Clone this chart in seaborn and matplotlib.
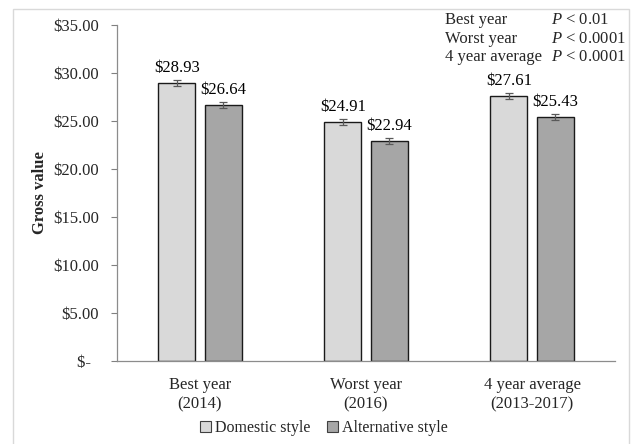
import matplotlib
matplotlib.use("Agg")
import matplotlib.pyplot as plt
import seaborn as sns
import pandas as pd
import numpy as np
from matplotlib.patches import Rectangle, Patch

categories = ["Best year\n(2014)", "Worst year\n(2016)", "4 year average\n(2013-2017)"]
series_names = ["Domestic style", "Alternative style"]
domestic = [28.93, 24.91, 27.61]
alternative = [26.64, 22.94, 25.43]
domestic_err = [0.30, 0.30, 0.30]
alternative_err = [0.30, 0.30, 0.30]
yticks = [0, 5, 10, 15, 20, 25, 30, 35]
ytick_labels = ["$-  ", "$5.00", "$10.00", "$15.00", "$20.00", "$25.00", "$30.00", "$35.00"]
stats_labels = ["Best year", "Worst year", "4 year average"]
stats_p = ["0.01", "0.0001", "0.0001"]

colors = ["#D9D9D9", "#A6A6A6"]
FS = 12

df = pd.DataFrame({
    "category": categories * 2,
    "style": [series_names[0]] * 3 + [series_names[1]] * 3,
    "value": domestic + alternative,
    "err": domestic_err + alternative_err,
})

sns.set_style("white")
plt.rcParams["font.family"] = ["Liberation Serif", "DejaVu Serif"]
plt.rcParams["mathtext.fontset"] = "custom"
plt.rcParams["mathtext.it"] = "Liberation Serif:italic"
plt.rcParams["mathtext.rm"] = "Liberation Serif"

fig = plt.figure(figsize=(6.31, 4.44), dpi=100)
ax = fig.add_axes([117/631, 1-361/444, (615-117)/631, (361-25)/444])

sns.barplot(data=df, x="category", y="value", hue="style", order=categories,
            hue_order=series_names, palette=colors, width=0.56, gap=0.2,
            errorbar=None, edgecolor="#1a1a1a", linewidth=1.0, legend=False, ax=ax)

# error bars and labels
for cont, vals, errs in zip(ax.containers, [domestic, alternative], [domestic_err, alternative_err]):
    xs = [p.get_x() + p.get_width() / 2 for p in cont.patches]
    ax.errorbar(xs, vals, yerr=errs, fmt="none", ecolor="#595959", elinewidth=0.9,
                capsize=3, capthick=0.9, zorder=5)
    for x, v, e in zip(xs, vals, errs):
        ax.text(x, v + e + 0.45, f"${v:.2f}", ha="center", va="bottom", fontsize=FS, color="black")

ax.set_ylim(0, 35)
ax.set_xlim(-0.5, 2.5)
ax.set_yticks(yticks)
ax.set_yticklabels(ytick_labels, fontsize=FS)
ax.tick_params(axis="y", which="both", left=True, length=4, width=0.8, color="#808080", pad=9)
ax.tick_params(axis="x", bottom=False, labelsize=FS, pad=8)
for t in ax.get_xticklabels():
    t.set_linespacing(1.25)
ax.set_xlabel("")
ax.set_ylabel("Gross value", fontsize=FS, fontweight="bold")
ax.yaxis.set_label_coords((48 - 117) / (615 - 117), 0.5)
for s in ["top", "right"]:
    ax.spines[s].set_visible(False)
for s in ["left", "bottom"]:
    ax.spines[s].set_color("#8c8c8c")
    ax.spines[s].set_linewidth(0.9)

# stats annotation
for i, (lab, p) in enumerate(zip(stats_labels, stats_p)):
    yy = 1 - (20 + 18.5 * i) / 444
    fig.text(445/631, yy, lab, fontsize=FS, va="center", ha="left")
    fig.text(551/631, yy, r"$P$ < " + p, fontsize=FS, va="center", ha="left")

# legend
handles = [Patch(facecolor=c, edgecolor="#404040", linewidth=0.8) for c in colors]
fig.legend(handles, series_names, loc="center", bbox_to_anchor=(324/631, 1 - 428/444),
           ncol=2, frameon=False, fontsize=11.5, handlelength=0.7, handleheight=0.7,
           handletextpad=0.25, columnspacing=1.0)

# chart border
fig.patches.append(Rectangle((13/631, -0.01), (629-13)/631, 1 - 9/444 + 0.01,
                             transform=fig.transFigure, fill=False, edgecolor="#d9d9d9",
                             linewidth=1.0))

fig.savefig("out.png", dpi=100)
